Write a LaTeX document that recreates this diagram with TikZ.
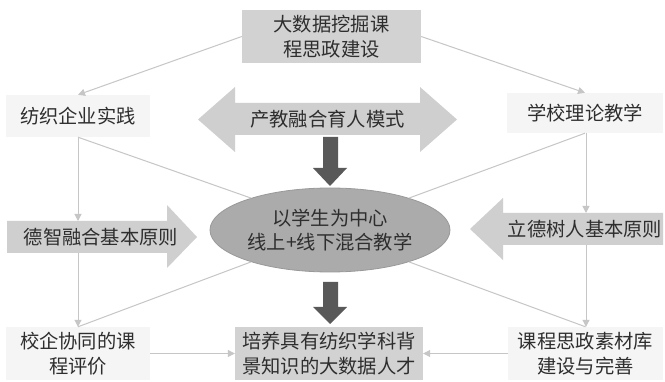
\documentclass[tikz,border=0pt]{standalone}
\usepackage{fontspec}
\setmainfont{Noto Sans CJK SC}
\usetikzlibrary{arrows.meta,shapes.geometric}
\definecolor{textc}{HTML}{2E2E2E}
\definecolor{softc}{HTML}{F5F5F5}
\definecolor{boxc}{HTML}{D2D2D2}
\definecolor{arrc}{HTML}{CFCFCF}
\definecolor{darkc}{HTML}{595959}
\definecolor{ellc}{HTML}{ABABAB}
\definecolor{elld}{HTML}{999999}
\definecolor{connc}{HTML}{C6C6C6}
\begin{document}
\begin{tikzpicture}[x=1pt,y=-1pt,
  txt/.style={font=\fontsize{19.3}{24.5}\selectfont, text=textc, align=center, inner sep=0pt},
  softbox/.style={txt, fill=softc},
  graybox/.style={txt, fill=boxc},
  bigarrow/.style={fill=arrc},
  darkarrow/.style={fill=darkc},
  conn/.style={draw=connc, line width=1pt},
  tip/.style={-{Triangle[length=7pt,width=7pt]}}]
\useasboundingbox (0,0) rectangle (665,382);
\fill[white] (0,0) rectangle (665,382);

% boxes
\node[graybox, minimum width=179pt, minimum height=53pt] (top) at (331.5,36.5) {大数据挖掘课\\程思政建设};
\node[softbox, minimum width=144pt, minimum height=42pt] (tl) at (78,116) {纺织企业实践};
\node[softbox, minimum width=156pt, minimum height=40pt] (tr) at (585,113) {学校理论教学};
\node[softbox, minimum width=144pt, minimum height=53pt] (bl) at (78,353.5) {校企协同的课\\程评价};
\node[softbox, minimum width=155pt, minimum height=53pt] (br) at (585.5,353.5) {课程思政素材库\\建设与完善};
\node[graybox, minimum width=188pt, minimum height=53pt] (bc) at (329,353.5) {培养具有纺织学科背\\景知识的大数据人才};

% central ellipse
\node[txt, ellipse, minimum width=240pt, minimum height=84pt, fill=ellc, draw=elld, line width=0.8pt] (ell) at (330,230) {以学生为中心\\线上+线下混合教学};

% big light arrows
\fill[bigarrow] (198,119.5) -- (235,87) -- (235,103) -- (420,103) -- (420,87) -- (457,119.5)
  -- (420,152) -- (420,135) -- (235,135) -- (235,152) -- cycle;
\node[txt] (mode) at (327.5,119) {产教融合育人模式};
\fill[bigarrow] (7,221) -- (167,221) -- (167,205) -- (197,237) -- (167,268) -- (167,253) -- (7,253) -- cycle;
\node[txt] (dezhi) at (101,237) {德智融合基本原则};
\fill[bigarrow] (663,213) -- (503,213) -- (503,198) -- (470,229) -- (503,260) -- (503,245) -- (663,245) -- cycle;
\node[txt] (lide) at (585,229) {立德树人基本原则};

% dark arrows
\fill[darkarrow] (323,137) -- (338,137) -- (338,168) -- (347,168) -- (330,186) -- (313,168) -- (323,168) -- cycle;
\fill[darkarrow] (323,282) -- (338,282) -- (338,307) -- (347,307) -- (330,324) -- (313,307) -- (323,307) -- cycle;

% connector coordinates at the big arrows
\coordinate (la1) at (78,221);
\coordinate (la2) at (78,253);
\coordinate (ra1) at (586,213);
\coordinate (ra2) at (586,245);

% connectors
\draw[conn,tip] (top.west) -- (tl.north);
\draw[conn,tip] (top.east) -- (tr.north);
\draw[conn] (tl.south) -- (ell.158);
\draw[conn] (tr.south) -- (ell.22);
\draw[conn,tip] (tl.south) -- (la1);
\draw[conn,tip] (la2) -- (bl.north);
\draw[conn,tip] (tr.south -| ra1) -- (ra1);
\draw[conn,tip] (ra2) -- (br.north -| ra2);
\draw[conn] (ell.202) -- (bl.north);
\draw[conn] (ell.338) -- (br.north);
\draw[conn,tip] (bl.east) -- (bc.west);
\draw[conn,tip] (br.west) -- (bc.east);
\end{tikzpicture}
\end{document}
